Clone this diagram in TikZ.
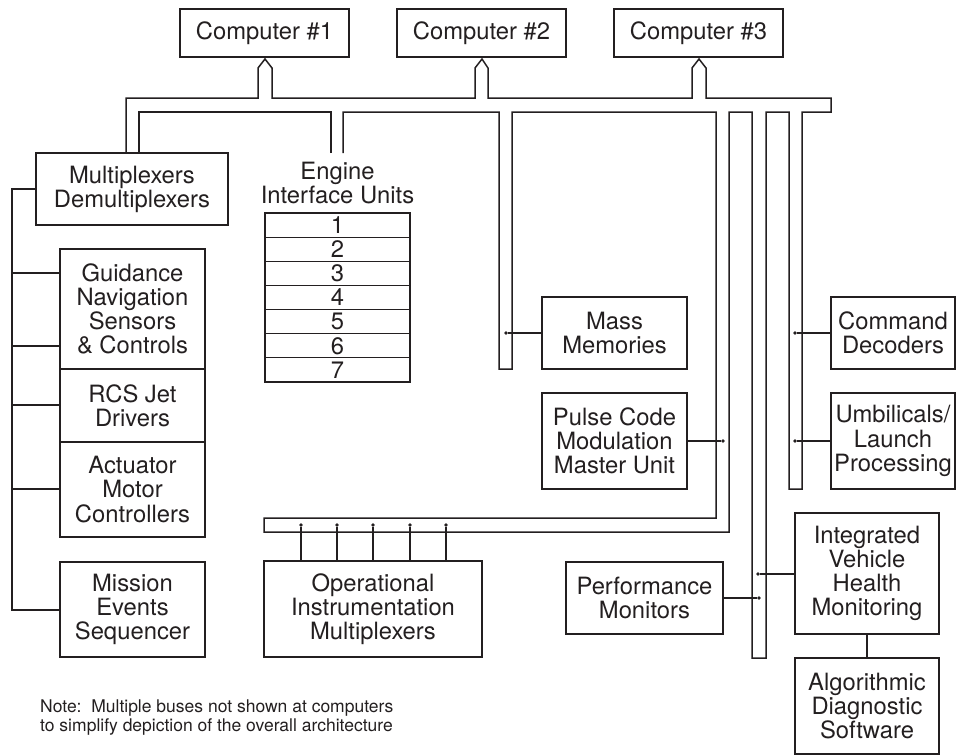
\documentclass[tikz,border=0pt]{standalone}
\usepackage{fontspec}
\setmainfont{TeX Gyre Heros}
\definecolor{ink}{HTML}{231F20}
\newcommand\boxfont{\fontsize{23.8}{24.1}\selectfont}
\newcommand\notefont{\fontsize{17.5}{18.3}\selectfont}
\tikzset{
  box/.style={draw=ink, line width=1.1pt, inner sep=0pt, align=center, text=ink, font=\boxfont},
  pipe/.style={draw=ink, line width=1.5pt, line join=miter},
  wire/.style={draw=ink, line width=1.4pt},
  tap/.style={fill=ink, circle, inner sep=0pt, minimum size=3.8pt}
}
\begin{document}
\begin{tikzpicture}[x=1pt,y=-1pt]
\useasboundingbox (0,0) rectangle (967,755);

% computers
\node[box, minimum width=169pt, minimum height=48pt] (comp1) at (264.5,33) {Computer \#1};
\node[box, minimum width=169pt, minimum height=48pt] (comp2) at (481.5,33) {Computer \#2};
\node[box, minimum width=169pt, minimum height=48pt] (comp3) at (698.5,33) {Computer \#3};

% main data bus drawn as a hollow pipe
\draw[pipe] (126,153) -- (126,98) -- (258,98) -- (258,68) -- (265,59) -- (272,68) -- (272,98)
  -- (475,98) -- (475,68) -- (482,59) -- (488,68) -- (488,98)
  -- (692,98) -- (692,68) -- (699,59) -- (706,68) -- (706,98)
  -- (831,98) -- (831,112) -- (802,112) -- (802,489) -- (789,489) -- (789,112)
  -- (766,112) -- (766,658) -- (752,658) -- (752,112)
  -- (729,112) -- (729,532) -- (264,532) -- (264,518) -- (716,518) -- (716,112)
  -- (512,112) -- (512,369) -- (499,369) -- (499,112)
  -- (343,112) -- (343,153);
\draw[pipe] (331,153) -- (331,112) -- (139,112) -- (139,153);

% left-hand avionics chain
\node[box, minimum width=192pt, minimum height=72pt] (mux) at (132,189) {Multiplexers\\Demultiplexers};
\node[box, minimum width=145pt, minimum height=120pt] (gnc) at (132.5,309) {Guidance\\Navigation\\Sensors\\\& Controls};
\node[box, minimum width=145pt, minimum height=73pt] (rcs) at (132.5,405.5) {RCS Jet\\Drivers};
\node[box, minimum width=145pt, minimum height=95pt] (act) at (132.5,489.5) {Actuator\\Motor\\Controllers};
\node[box, minimum width=145pt, minimum height=95pt] (mes) at (132.5,609.5) {Mission\\Events\\Sequencer};

\coordinate (trunkTop) at (12,189);
\coordinate (trunkBot) at (12,610);
\coordinate (t1) at (12,273);
\coordinate (t2) at (12,346);
\coordinate (t3) at (12,405);
\coordinate (t4) at (12,489);
\draw[wire] (mux.west) -- (trunkTop) -- (trunkBot) -- (mes.west |- trunkBot);
\draw[wire] (t1) -- (gnc.west |- t1);
\draw[wire] (t2) -- (gnc.west |- t2);
\draw[wire] (t3) -- (rcs.west |- t3);
\draw[wire] (t4) -- (act.west |- t4);

% engine interface units
\node[text=ink, font=\boxfont, align=center, inner sep=0pt] (eiulabel) at (337.5,183) {Engine\\Interface Units};
\foreach \i in {1,...,7}
  \node[box, minimum width=145pt, minimum height=24.14pt] (eiu\i) at (337.5,{213+(\i-0.5)*24.143}) {\i};

% mass memories and PCM
\node[box, minimum width=145pt, minimum height=72pt] (mass) at (614.5,333) {Mass\\Memories};
\node[box, minimum width=145pt, minimum height=96pt] (pcm) at (614.5,441) {Pulse Code\\Modulation\\Master Unit};
\node[tap] (dmass) at (506,333) {};
\node[tap] (dpcm) at (723,441) {};
\draw[wire] (dmass) -- (mass.west);
\draw[wire] (pcm.east) -- (dpcm);

% command and launch
\node[box, minimum width=124pt, minimum height=72pt] (cmd) at (893,333) {Command\\Decoders};
\node[box, minimum width=124pt, minimum height=96pt] (umb) at (893,441) {Umbilicals/\\Launch\\Processing};
\node[tap] (dcmd) at (795,333) {};
\node[tap] (dumb) at (795,441) {};
\draw[wire] (dcmd) -- (cmd.west);
\draw[wire] (dumb) -- (umb.west);

% operational instrumentation
\node[box, minimum width=218pt, minimum height=96pt] (oim) at (373,609) {Operational\\Instrumentation\\Multiplexers};
\foreach \x [count=\k] in {301,337,373,410,446} {
  \node[tap] (doi\k) at (\x,525) {};
  \draw[wire] (doi\k) -- (doi\k |- oim.north);
}

% health monitoring
\node[box, minimum width=157pt, minimum height=72pt] (perf) at (644.5,598) {Performance\\Monitors};
\node[box, minimum width=144pt, minimum height=121pt] (ivhm) at (867,573.5) {Integrated\\Vehicle\\Health\\Monitoring};
\node[box, minimum width=144pt, minimum height=96pt] (ads) at (867,706) {Algorithmic\\Diagnostic\\Software};
\node[tap] (dperf) at (759,598) {};
\node[tap] (divhm) at (758,574) {};
\draw[wire] (perf.east) -- (dperf);
\draw[wire] (divhm) -- (ivhm.west |- divhm);
\draw[wire] (ivhm.south) -- (ads.north);

% footnote
\node[text=ink, font=\notefont, align=left, anchor=base west, inner sep=0pt] (note) at (40,731) {Note:\ \ Multiple buses not shown at computers\\to simplify depiction of the overall architecture};
\end{tikzpicture}
\end{document}
